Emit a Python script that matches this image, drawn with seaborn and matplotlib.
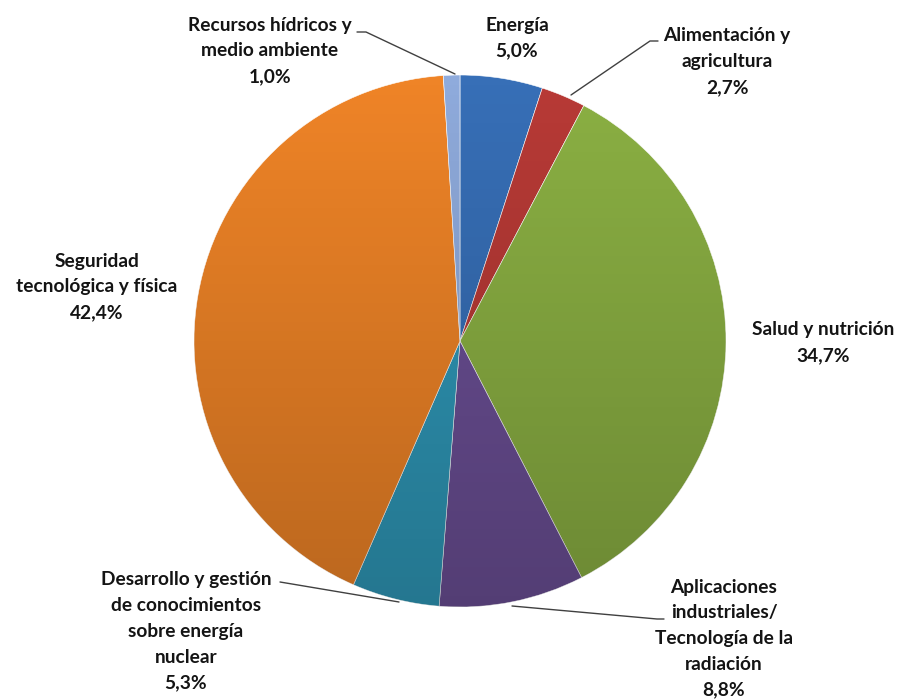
import numpy as np
import seaborn as sns
import matplotlib.pyplot as plt
from matplotlib.patches import Circle

# data (clockwise from 12 o'clock)
labels = [
    "Energía",
    "Alimentación y\nagricultura",
    "Salud y nutrición",
    "Aplicaciones\nindustriales/\nTecnología de la\nradiación",
    "Desarrollo y gestión\nde conocimientos\nsobre energía\nnuclear",
    "Seguridad\ntecnológica y física",
    "Recursos hídricos y\nmedio ambiente",
]
values = [5.0, 2.7, 34.7, 8.8, 5.3, 42.4, 1.0]
colors = ["#376fb7", "#b83a36", "#8bb043", "#6b4f95", "#2f98b8", "#ef8427", "#8fabdc"]

sns.set_theme(style="white")
plt.rcParams["font.family"] = ["Lato", "DejaVu Sans"]

W, H = 905, 700
fig = plt.figure(figsize=(W / 100, H / 100), dpi=100)
ax = fig.add_axes([0, 0, 1, 1])

cx, cy, r = 460, H - 341, 266

wedges, _ = ax.pie(values, startangle=90, counterclock=False, colors=colors,
                   center=(cx, cy), radius=r, frame=True,
                   wedgeprops=dict(edgecolor="white", linewidth=0.4))

# vertical shading like the original (lighter on top, darker at the bottom)
n = 256
shade = np.zeros((n, 1, 4))
shade[:, 0, 3] = np.linspace(0.0, 0.22, n)
im = ax.imshow(shade, extent=(cx - r, cx + r, cy - r, cy + r), origin="upper",
               aspect="auto", interpolation="bilinear", zorder=3)
im.set_clip_path(Circle((cx, cy), r, transform=ax.transData))

# label text: (x, y of first line) in pixels from top-left
label_pos = [
    (517, 25), (727, 36), (823, 330), (724, 587), (186, 580), (97, 261), (270, 25),
]
step = 25.8
for lab, val, (x, y) in zip(labels, values, label_pos):
    lines = lab.split("\n") + [f"{val:.1f}%".replace(".", ",")]
    for i, line in enumerate(lines):
        ax.text(x, H - (y + i * step), line, ha="center", va="center",
                fontsize=13.8, fontweight="bold", color="#141414", zorder=5)

# leader lines
leaders = [
    [(357, 32), (366, 32), (455, 74)],
    [(658, 41), (650, 41), (571, 95)],
    [(280, 582), (292, 584), (399, 602)],
    [(512, 606), (657, 619), (664, 619)],
]
for pts in leaders:
    xs = [p[0] for p in pts]
    ys = [H - p[1] for p in pts]
    ax.plot(xs, ys, color="#404040", lw=1.0, zorder=4)

ax.set_xlim(0, W)
ax.set_ylim(0, H)
ax.set_aspect("equal")
ax.axis("off")

fig.savefig("out.png", dpi=100)
